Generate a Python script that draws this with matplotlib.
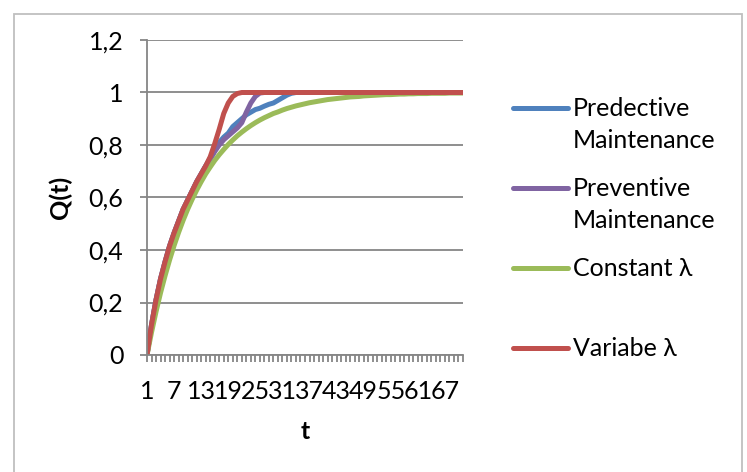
import matplotlib
matplotlib.use("Agg")
import matplotlib.pyplot as plt
from matplotlib.lines import Line2D
from matplotlib.patches import Rectangle
from matplotlib.ticker import FixedLocator, MultipleLocator, FuncFormatter

plt.rcParams['font.family'] = ['Lato', 'DejaVu Sans']
plt.rcParams['font.size'] = 18

# time steps
t = list(range(1, 72))

predictive = [0, 0.115, 0.21, 0.29, 0.355, 0.415, 0.465, 0.51, 0.555, 0.59,
              0.625, 0.66, 0.69, 0.72, 0.75, 0.78, 0.81, 0.83, 0.845, 0.87,
              0.885, 0.9, 0.915, 0.925, 0.935, 0.94, 0.948, 0.955, 0.96, 0.97,
              0.98, 0.99, 0.997, 1, 1, 1, 1, 1, 1, 1,
              1, 1, 1, 1, 1, 1, 1, 1, 1, 1,
              1, 1, 1, 1, 1, 1, 1, 1, 1, 1,
              1, 1, 1, 1, 1, 1, 1, 1, 1, 1,
              1]

preventive = [0, 0.115, 0.21, 0.29, 0.355, 0.415, 0.465, 0.51, 0.555, 0.59,
              0.625, 0.66, 0.69, 0.72, 0.745, 0.775, 0.8, 0.82, 0.835, 0.85,
              0.865, 0.885, 0.925, 0.96, 0.985, 0.998, 1, 1, 1, 1,
              1, 1, 1, 1, 1, 1, 1, 1, 1, 1,
              1, 1, 1, 1, 1, 1, 1, 1, 1, 1,
              1, 1, 1, 1, 1, 1, 1, 1, 1, 1,
              1, 1, 1, 1, 1, 1, 1, 1, 1, 1,
              1]

constant = [0, 0.086, 0.165, 0.237, 0.302, 0.362, 0.417, 0.467, 0.513, 0.555,
            0.593, 0.628, 0.660, 0.690, 0.716, 0.741, 0.763, 0.783, 0.802, 0.819,
            0.835, 0.849, 0.862, 0.874, 0.885, 0.895, 0.904, 0.912, 0.920, 0.926,
            0.933, 0.939, 0.944, 0.949, 0.953, 0.957, 0.961, 0.964, 0.967, 0.970,
            0.973, 0.975, 0.977, 0.979, 0.981, 0.983, 0.984, 0.985, 0.987, 0.988,
            0.989, 0.990, 0.991, 0.992, 0.992, 0.993, 0.994, 0.994, 0.995, 0.995,
            0.996, 0.996, 0.996, 0.997, 0.997, 0.997, 0.997, 0.998, 0.998, 0.998,
            0.998]

variable = [0, 0.115, 0.21, 0.29, 0.355, 0.415, 0.465, 0.51, 0.555, 0.59,
            0.625, 0.66, 0.69, 0.72, 0.755, 0.805, 0.86, 0.92, 0.96, 0.985,
            0.996, 1, 1, 1, 1, 1, 1, 1, 1, 1,
            1, 1, 1, 1, 1, 1, 1, 1, 1, 1,
            1, 1, 1, 1, 1, 1, 1, 1, 1, 1,
            1, 1, 1, 1, 1, 1, 1, 1, 1, 1,
            1, 1, 1, 1, 1, 1, 1, 1, 1, 1,
            1]

series = [
    ("Predective\nMaintenance", predictive, "#4F81BD"),
    ("Preventive\nMaintenance", preventive, "#8064A2"),
    ("Constant λ", constant, "#9BBB59"),
    ("Variabe λ", variable, "#C0504D"),
]

grid_col = "#868686"
W, H = 747, 472

fig = plt.figure(figsize=(W / 100, H / 100), dpi=100)
ax = fig.add_axes([147 / W, 1 - 355 / H, (463 - 147) / W, (355 - 40) / H])

for name, vals, col in series:
    ax.plot(t, vals, color=col, lw=3.6, solid_capstyle='round', solid_joinstyle='round')

ax.set_xlim(1, 71)
ax.set_ylim(0, 1.2)

ax.yaxis.set_major_locator(MultipleLocator(0.2))
ax.yaxis.set_major_formatter(FuncFormatter(lambda v, p: f"{v:g}".replace('.', ',')))
ax.grid(axis='y', color=grid_col, lw=1.3)
ax.set_axisbelow(True)

ax.xaxis.set_major_locator(FixedLocator(t[::6]))
ax.xaxis.set_minor_locator(FixedLocator(t))

for s in ['top', 'right']:
    ax.spines[s].set_visible(False)
for s in ['left', 'bottom']:
    ax.spines[s].set_color(grid_col)
    ax.spines[s].set_linewidth(1.3)

ax.tick_params(axis='y', direction='out', length=5, width=1.3, color=grid_col, pad=12)
ax.tick_params(axis='x', which='both', direction='out', length=5, width=1.3,
               color=grid_col, pad=13)

ax.set_ylabel("Q(t)", fontweight='bold', labelpad=12)
ax.set_xlabel("t", fontweight='bold', labelpad=12)

# legend drawn beside the plot area
ys = [108, 188, 268, 348]
for (name, vals, col), y in zip(series, ys):
    fy = 1 - y / H
    fig.add_artist(Line2D([513 / W, 568 / W], [fy, fy], color=col, lw=3.6,
                          solid_capstyle='round'))
    fig.text(573 / W, 1 - (y - 11) / H, name, va='top', ha='left', linespacing=1.5)

# chart border
fig.add_artist(Rectangle((14 / W, -0.1), (742 - 14) / W, 1.1 - 14 / H,
                         transform=fig.transFigure, fill=False,
                         edgecolor="#BFBFBF", lw=1.3))

fig.savefig("out.png", dpi=100)
